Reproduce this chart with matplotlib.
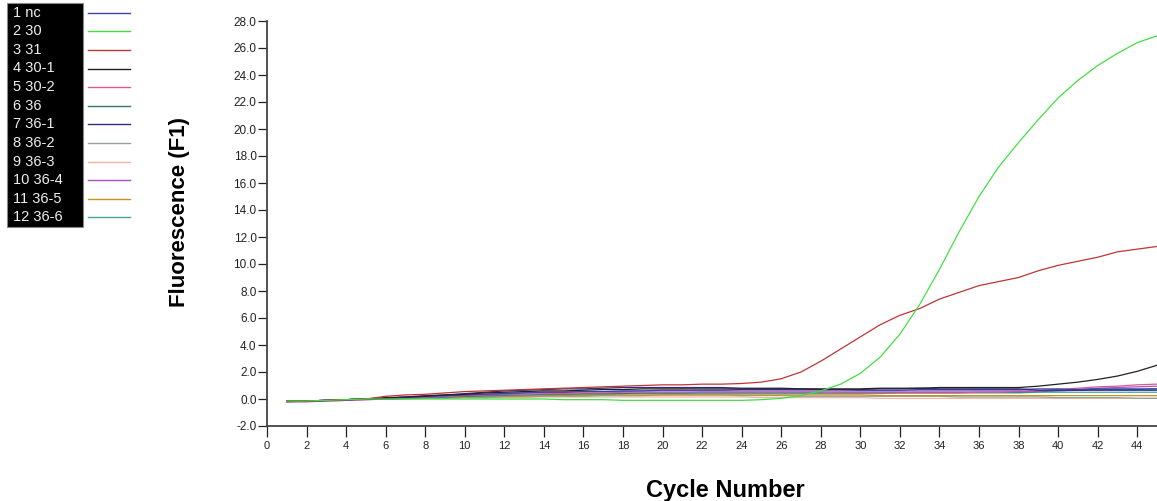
import numpy as np
import matplotlib
matplotlib.use("Agg")
import matplotlib.pyplot as plt
from matplotlib.lines import Line2D
from matplotlib.patches import Rectangle

plt.rcParams['font.family'] = ['Liberation Sans', 'DejaVu Sans']

cycles = np.arange(1, 46)

names = ["1 nc", "2 30", "3 31", "4 30-1", "5 30-2", "6 36",
         "7 36-1", "8 36-2", "9 36-3", "10 36-4", "11 36-5", "12 36-6"]
colors = ["#3c44b4", "#44dd44", "#c03434", "#222222", "#e0588e", "#2f7a72",
          "#2e2e78", "#94a494", "#f2b4a2", "#a456c4", "#c49420", "#44a4a4"]

s_nc = [-0.15, -0.15, -0.1, -0.05, 0.0, 0.05, 0.1, 0.2, 0.25, 0.3,
        0.35, 0.4, 0.45, 0.5, 0.5, 0.55, 0.55, 0.6, 0.6, 0.65,
        0.65, 0.65, 0.65, 0.7, 0.7, 0.7, 0.7, 0.7, 0.7, 0.65,
        0.65, 0.65, 0.7, 0.7, 0.7, 0.7, 0.7, 0.7, 0.75, 0.75,
        0.7, 0.75, 0.75, 0.75, 0.75]
s_30 = [-0.15, -0.15, -0.1, -0.05, 0.0, 0.0, 0.0, 0.0, 0.0, 0.0,
        0.0, 0.0, 0.0, 0.0, -0.05, -0.05, -0.05, -0.1, -0.1, -0.1,
        -0.1, -0.1, -0.1, -0.1, -0.05, 0.05, 0.25, 0.6, 1.1, 1.9,
        3.1, 4.8, 7.0, 9.6, 12.4, 15.0, 17.2, 19.0, 20.7, 22.3,
        23.6, 24.7, 25.6, 26.4, 26.9]
s_31 = [-0.15, -0.15, -0.1, -0.05, 0.0, 0.2, 0.3, 0.35, 0.45, 0.55,
        0.6, 0.65, 0.7, 0.75, 0.8, 0.85, 0.9, 0.95, 1.0, 1.05,
        1.05, 1.1, 1.1, 1.15, 1.25, 1.5, 2.0, 2.8, 3.7, 4.6,
        5.5, 6.2, 6.7, 7.4, 7.9, 8.4, 8.7, 9.0, 9.5, 9.9,
        10.2, 10.5, 10.9, 11.1, 11.3]
s_30_1 = [-0.15, -0.15, -0.1, -0.05, 0.0, 0.1, 0.15, 0.2, 0.3, 0.35,
          0.45, 0.5, 0.55, 0.6, 0.6, 0.65, 0.7, 0.7, 0.75, 0.75,
          0.75, 0.75, 0.75, 0.75, 0.75, 0.75, 0.75, 0.75, 0.75, 0.75,
          0.8, 0.8, 0.8, 0.85, 0.85, 0.85, 0.85, 0.85, 0.95, 1.1,
          1.25, 1.45, 1.7, 2.05, 2.5]
s_30_2 = [-0.2, -0.2, -0.15, -0.1, -0.05, 0.0, 0.1, 0.15, 0.2, 0.25,
          0.3, 0.35, 0.35, 0.4, 0.4, 0.45, 0.45, 0.5, 0.5, 0.5,
          0.5, 0.5, 0.5, 0.5, 0.5, 0.5, 0.5, 0.5, 0.45, 0.45,
          0.45, 0.45, 0.45, 0.45, 0.45, 0.5, 0.5, 0.55, 0.6, 0.7,
          0.8, 0.9, 0.95, 1.05, 1.1]
s_36 = [-0.15, -0.15, -0.1, -0.05, 0.0, 0.0, 0.05, 0.1, 0.15, 0.2,
        0.25, 0.3, 0.3, 0.35, 0.35, 0.4, 0.4, 0.4, 0.45, 0.45,
        0.45, 0.5, 0.5, 0.5, 0.5, 0.5, 0.5, 0.5, 0.5, 0.5,
        0.5, 0.5, 0.5, 0.5, 0.5, 0.5, 0.5, 0.5, 0.55, 0.6,
        0.65, 0.7, 0.7, 0.7, 0.75]
s_36_1 = [-0.2, -0.15, -0.1, -0.05, 0.0, 0.05, 0.15, 0.25, 0.3, 0.4,
          0.5, 0.6, 0.65, 0.7, 0.75, 0.75, 0.8, 0.85, 0.85, 0.85,
          0.85, 0.85, 0.85, 0.8, 0.8, 0.8, 0.75, 0.7, 0.7, 0.7,
          0.75, 0.75, 0.8, 0.75, 0.75, 0.75, 0.75, 0.75, 0.65, 0.65,
          0.65, 0.65, 0.65, 0.65, 0.65]
s_36_2 = [-0.15, -0.15, -0.1, -0.05, 0.0, 0.0, 0.0, 0.05, 0.05, 0.1,
          0.1, 0.15, 0.15, 0.2, 0.2, 0.2, 0.25, 0.25, 0.25, 0.3,
          0.3, 0.3, 0.3, 0.25, 0.25, 0.25, 0.2, 0.2, 0.2, 0.2,
          0.2, 0.2, 0.2, 0.2, 0.15, 0.15, 0.15, 0.15, 0.15, 0.1,
          0.1, 0.1, 0.1, 0.05, 0.05]
s_36_3 = [-0.15, -0.15, -0.1, -0.05, 0.0, 0.0, 0.05, 0.05, 0.1, 0.1,
          0.1, 0.15, 0.15, 0.15, 0.15, 0.15, 0.15, 0.15, 0.15, 0.15,
          0.15, 0.15, 0.15, 0.15, 0.1, 0.1, 0.1, 0.1, 0.1, 0.1,
          0.05, 0.05, 0.05, 0.05, 0.05, 0.05, 0.05, 0.05, 0.05, 0.05,
          0.05, 0.05, 0.05, 0.05, 0.05]
s_36_4 = [-0.2, -0.2, -0.15, -0.1, -0.05, 0.0, 0.05, 0.15, 0.2, 0.3,
          0.35, 0.4, 0.45, 0.5, 0.5, 0.55, 0.55, 0.55, 0.6, 0.6,
          0.6, 0.6, 0.6, 0.6, 0.6, 0.6, 0.6, 0.6, 0.6, 0.6,
          0.6, 0.6, 0.6, 0.6, 0.6, 0.6, 0.6, 0.6, 0.6, 0.65,
          0.7, 0.8, 0.85, 0.9, 0.95]
s_36_5 = [-0.15, -0.15, -0.1, -0.05, 0.0, 0.0, 0.05, 0.1, 0.1, 0.15,
          0.15, 0.2, 0.2, 0.25, 0.25, 0.25, 0.3, 0.3, 0.3, 0.3,
          0.3, 0.3, 0.3, 0.3, 0.3, 0.3, 0.3, 0.3, 0.3, 0.3,
          0.25, 0.25, 0.25, 0.25, 0.25, 0.25, 0.25, 0.25, 0.25, 0.25,
          0.25, 0.25, 0.25, 0.25, 0.25]
s_36_6 = [-0.15, -0.15, -0.1, -0.05, 0.0, 0.05, 0.1, 0.1, 0.15, 0.2,
          0.2, 0.25, 0.3, 0.3, 0.35, 0.35, 0.35, 0.4, 0.4, 0.4,
          0.4, 0.4, 0.4, 0.4, 0.4, 0.4, 0.4, 0.4, 0.4, 0.4,
          0.4, 0.45, 0.45, 0.45, 0.45, 0.45, 0.45, 0.45, 0.5, 0.5,
          0.5, 0.5, 0.5, 0.5, 0.5]

series = [s_nc, s_30, s_31, s_30_1, s_30_2, s_36,
          s_36_1, s_36_2, s_36_3, s_36_4, s_36_5, s_36_6]

W, H = 1157, 501
fig = plt.figure(figsize=(W / 100, H / 100), dpi=100)
ax = fig.add_axes([267 / W, (H - 426) / H, 890 / W, 405 / H])

# draw flat ones first, big curves last so they sit on top
order = [8, 7, 10, 11, 5, 4, 9, 0, 6, 3, 2, 1]
for i in order:
    ax.plot(cycles, series[i], color=colors[i], lw=0.9)

ax.set_xlim(0, 45)
ax.set_ylim(-2, 28)
ax.set_xticks(np.arange(0, 45, 2))
ax.set_yticks(np.arange(-2, 29, 2))
ax.set_yticklabels(["%.1f" % v for v in np.arange(-2, 29, 2)])
for sp in ["top", "right"]:
    ax.spines[sp].set_visible(False)
for sp in ["left", "bottom"]:
    ax.spines[sp].set_color("#444444")
    ax.spines[sp].set_linewidth(1.3)
ax.tick_params(axis="y", direction="out", length=6.5, width=0.9, pad=1,
               labelsize=8.5, colors="#222222")
ax.tick_params(axis="x", direction="out", length=8, width=0.9, pad=3,
               labelsize=8, colors="#222222")

fig.text(725 / W, 1 - 491 / H, "Cycle Number", ha="center", va="center",
         fontsize=17, fontweight="bold")
fig.text(179 / W, 1 - 212 / H, "Fluorescence (F1)", ha="center", va="center",
         rotation=90, fontsize=16, fontweight="bold")

# legend block
fig.add_artist(Rectangle((7 / W, 1 - 227 / H), 76 / W, 224 / H,
                         transform=fig.transFigure, facecolor="black",
                         edgecolor="#888888", lw=0.8))
for k in range(len(names)):
    yy = 1 - (12.7 + 18.6 * k) / H
    fig.text(13 / W, yy, names[k], color="#eeeeee", fontsize=10.5,
             ha="left", va="center")
    fig.add_artist(Line2D([88 / W, 130 / W], [yy, yy], color=colors[k],
                          lw=1.0, transform=fig.transFigure))

fig.savefig("out.png", dpi=100)
